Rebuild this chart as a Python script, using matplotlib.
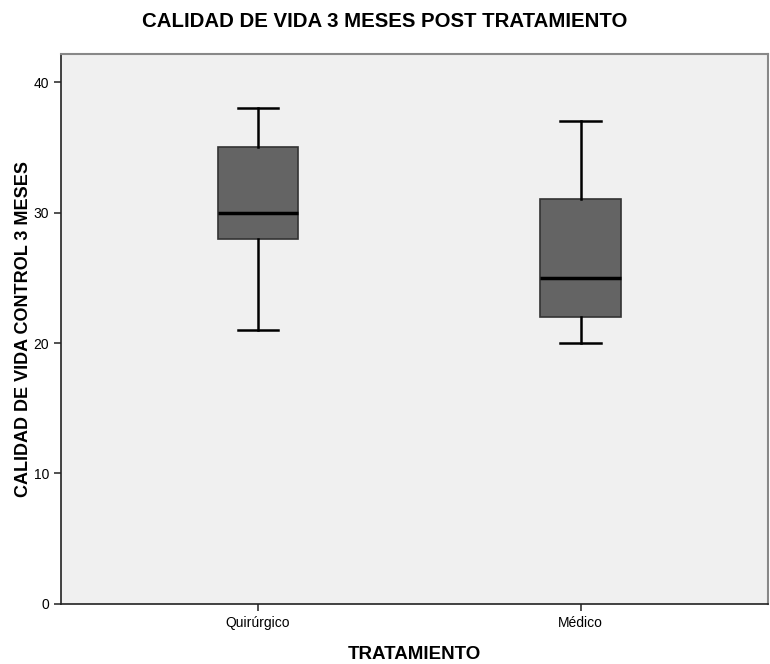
import matplotlib
matplotlib.use("Agg")
import matplotlib.pyplot as plt

plt.rcParams["font.family"] = ["Liberation Sans", "DejaVu Sans"]

# resumen de cada grupo (calidad de vida a los 3 meses)
grupos = ["Quirúrgico", "Médico"]
minimo = [21, 20]
q1 = [28, 22]
mediana = [30, 25]
q3 = [35, 31]
maximo = [38, 37]

stats = [
    {"label": g, "whislo": lo, "q1": a, "med": m, "q3": b, "whishi": hi}
    for g, lo, a, m, b, hi in zip(grupos, minimo, q1, mediana, q3, maximo)
]

fig = plt.figure(figsize=(7.7, 6.64), dpi=100)
ax = fig.add_axes([0.0792, 0.0904, 0.9178, 0.8283])
ax.set_facecolor("#f0f0f0")

ax.bxp(
    stats,
    positions=[1, 2],
    widths=0.25,
    patch_artist=True,
    showfliers=False,
    boxprops=dict(facecolor="#646464", edgecolor="#333333", linewidth=1.2),
    medianprops=dict(color="black", linewidth=2.5),
    whiskerprops=dict(color="black", linewidth=1.8),
    capprops=dict(color="black", linewidth=1.8),
    capwidths=0.125,
)

ax.set_xlim(0.389, 2.58)
ax.set_ylim(0, 42.15)
ax.set_yticks([0, 10, 20, 30, 40])
ax.set_xticks([1, 2])
ax.set_xticklabels(grupos)
ax.tick_params(axis="both", labelsize=10, length=5, width=1.2, color="#333333")

for lado in ("left", "bottom"):
    ax.spines[lado].set_color("#222222")
    ax.spines[lado].set_linewidth(1.2)
for lado in ("top", "right"):
    ax.spines[lado].set_color("#888888")
    ax.spines[lado].set_linewidth(1.5)

ax.set_xlabel("TRATAMIENTO", fontsize=13.5, fontweight="bold", labelpad=12)
ax.set_ylabel("CALIDAD DE VIDA CONTROL 3 MESES", fontsize=13, fontweight="bold", labelpad=1)
fig.suptitle("CALIDAD DE VIDA 3 MESES POST TRATAMIENTO", fontsize=14.7, fontweight="bold", y=0.982)

fig.savefig("out.png", dpi=100)
